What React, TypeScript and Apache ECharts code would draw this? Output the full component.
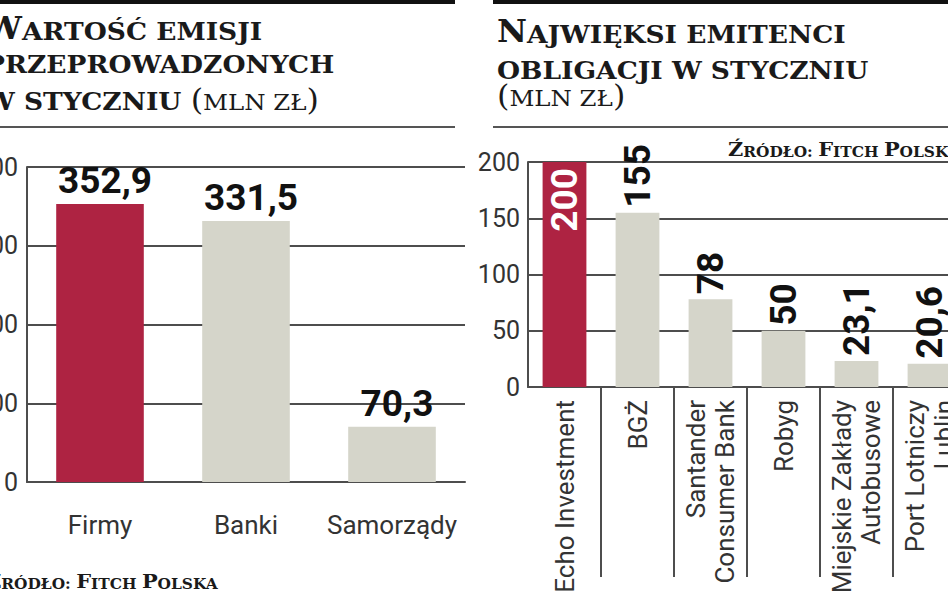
import React, { useEffect, useRef } from 'react';
import * as echarts from 'echarts';

const leftCategories = ['Firmy', 'Banki', 'Samorządy'];
const leftValues = [352.9, 331.5, 70.3];
const leftAxis = { min: 0, max: 400, interval: 100 };

const rightCategories = [
  'Echo Investment',
  'BGŻ',
  'Santander\nConsumer Bank',
  'Robyg',
  'Miejskie Zakłady\nAutobusowe',
  'Port Lotniczy\nLublin',
];
const rightValues = [200, 155, 78, 50, 23.1, 20.6];
const rightAxis = { min: 0, max: 200, interval: 50 };

const RED = '#AE2342';
const GRAY = '#D5D5CA';
const INK = '#1a1a1a';
const LINE = '#4d4d4d';
const SANS = "Roboto, 'DejaVu Sans Condensed', sans-serif";
const SERIF = "'DejaVu Serif', 'Liberation Serif', serif";

const fmt = (v: number) => String(v).replace('.', ',');

const tok = (fontSize: number, bold: boolean) => ({
  fontFamily: SERIF,
  fontWeight: bold ? 'bold' : 'normal',
  fontSize,
  fill: INK,
  verticalAlign: 'bottom',
  lineHeight: 36,
});

const titleRich = {
  big: tok(31, true),
  sc: tok(25, true),
  par: tok(30, false),
  scn: tok(23, false),
};

const srcRich = {
  b: { ...tok(19, true), lineHeight: 22 },
  s: { ...tok(14, true), lineHeight: 22 },
};

const textLine = (x: number, y: number, parts: [string, string][], rich: any, scaleX: number) => ({
  type: 'text',
  x,
  y,
  scaleX,
  style: {
    text: parts.map(([t, k]) => `{${k}|${t}}`).join(''),
    rich,
    align: 'left',
    verticalAlign: 'bottom',
  },
});

const TS = 1.06;
const SS = 1.1;

const graphic = [
  { type: 'line', shape: { x1: 0, y1: 2, x2: 455, y2: 2 }, style: { stroke: '#111', lineWidth: 4 } },
  { type: 'line', shape: { x1: 493, y1: 2, x2: 948, y2: 2 }, style: { stroke: '#111', lineWidth: 4 } },
  { type: 'line', shape: { x1: 0, y1: 127, x2: 455, y2: 127 }, style: { stroke: '#555', lineWidth: 2 } },
  { type: 'line', shape: { x1: 493, y1: 127, x2: 948, y2: 127 }, style: { stroke: '#555', lineWidth: 2 } },
  textLine(-15, 44, [['W', 'big'], ['ARTOŚĆ EMISJI', 'sc']], titleRich, TS),
  textLine(-15, 77, [['PRZEPROWADZONYCH', 'sc']], titleRich, TS),
  textLine(-15, 114, [['W STYCZNIU ', 'sc'], ['(', 'par'], ['MLN ZŁ', 'scn'], [')', 'par']], titleRich, TS),
  textLine(497, 47, [['N', 'big'], ['AJWIĘKSI EMITENCI', 'sc']], titleRich, TS),
  textLine(497, 83, [['OBLIGACJI W STYCZNIU', 'sc']], titleRich, TS),
  textLine(497, 110, [['(', 'par'], ['MLN ZŁ', 'scn'], [')', 'par']], titleRich, TS),
  textLine(-14, 591, [['Ź', 'b'], ['RÓDŁO: ', 's'], ['F', 'b'], ['ITCH ', 's'], ['P', 'b'], ['OLSKA', 's']], srcRich, SS),
  textLine(728, 159, [['Ź', 'b'], ['RÓDŁO: ', 's'], ['F', 'b'], ['ITCH ', 's'], ['P', 'b'], ['OLSKA', 's']], srcRich, SS),
];

const axisLineStyle = { color: LINE, width: 2 };

const valueLabelBase = {
  show: true,
  fontFamily: SANS,
  fontWeight: 'bold',
  fontSize: 37,
  color: '#111',
  formatter: (p: any) => fmt(p.value),
};

const option = {
  animation: false,
  backgroundColor: '#ffffff',
  graphic,
  grid: [
    { left: 27, right: 483, top: 167, bottom: 111, outerBoundsMode: 'none', containLabel: false },
    { left: 528, right: -18, top: 162, bottom: 206, outerBoundsMode: 'none', containLabel: false },
  ],
  xAxis: [
    {
      type: 'category',
      gridIndex: 0,
      data: leftCategories,
      axisLine: { lineStyle: axisLineStyle },
      axisTick: { show: false },
      axisLabel: { interval: 0, margin: 30, fontSize: 26, fontFamily: SANS, color: '#333' },
    },
    {
      type: 'category',
      gridIndex: 1,
      data: rightCategories,
      axisLine: { lineStyle: axisLineStyle },
      axisTick: { show: true, length: 190, interval: (i: number) => i > 0, lineStyle: axisLineStyle },
      axisLabel: { interval: 0, rotate: 90, margin: 13, fontSize: 26, lineHeight: 29, fontFamily: SANS, color: '#333' },
    },
  ],
  yAxis: [
    {
      type: 'value',
      gridIndex: 0,
      ...leftAxis,
      axisLine: { show: true, lineStyle: axisLineStyle },
      axisTick: { show: false },
      splitLine: { show: true, lineStyle: axisLineStyle },
      axisLabel: { margin: 9, fontSize: 25, fontFamily: SANS, color: '#333' },
    },
    {
      type: 'value',
      gridIndex: 1,
      ...rightAxis,
      axisLine: { show: true, lineStyle: axisLineStyle },
      axisTick: { show: false },
      splitLine: { show: true, lineStyle: axisLineStyle },
      axisLabel: { margin: 8, fontSize: 25, fontFamily: SANS, color: '#333' },
    },
  ],
  series: [
    {
      type: 'bar',
      xAxisIndex: 0,
      yAxisIndex: 0,
      barWidth: '60%',
      data: leftValues,
      itemStyle: { color: (p: any) => (p.dataIndex === 0 ? RED : GRAY) },
      label: { ...valueLabelBase, position: 'top', distance: 5, offset: [5, 0] },
    },
    {
      type: 'bar',
      xAxisIndex: 1,
      yAxisIndex: 1,
      barWidth: '60%',
      data: rightValues.map((v, i) =>
        i === 0
          ? {
              value: v,
              label: { position: 'insideTop', distance: 6, align: 'right', verticalAlign: 'middle', rotate: 90, color: '#fff' },
            }
          : v
      ),
      itemStyle: { color: (p: any) => (p.dataIndex === 0 ? RED : GRAY) },
      label: { ...valueLabelBase, position: 'top', distance: 5, align: 'left', verticalAlign: 'middle', rotate: 90 },
    },
  ],
};

export default function App() {
  const ref = useRef<HTMLDivElement>(null);
  useEffect(() => {
    const chart = echarts.init(ref.current!, null, { renderer: 'svg' });
    chart.setOption(option as any);
    return () => chart.dispose();
  }, []);
  return (
    <div
      ref={ref}
      style={{ position: 'fixed', left: 0, top: 0, width: 948, height: 593, background: '#fff' }}
    />
  );
}
